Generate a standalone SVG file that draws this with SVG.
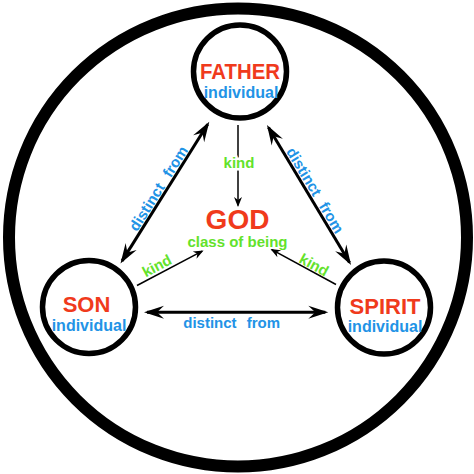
<svg xmlns="http://www.w3.org/2000/svg" width="474" height="474" viewBox="0 0 474 474">
<defs>
<style>
text{font-family:"Liberation Sans",Arial,sans-serif;font-weight:bold;text-anchor:middle}
.name{fill:#f03a1c;font-size:22px}
.ind{fill:#2293e6;font-size:16px}
.kind{fill:#63e22b;font-size:15px}
.dist{fill:#2293e6;font-size:15px;word-spacing:6px}
.halo{stroke:#fff;stroke-width:5px;paint-order:stroke;stroke-linejoin:round}
.node{fill:#fff;stroke:#000;stroke-width:5.5}
.thick{stroke:#000;stroke-width:3;fill:none;marker-start:url(#big);marker-end:url(#big)}
.thin{stroke:#000;stroke-width:1.5;fill:none;marker-end:url(#small)}
</style>
<marker id="big" markerUnits="userSpaceOnUse" orient="auto-start-reverse" viewBox="-22 -8 26 16" refX="-3" refY="0" markerWidth="26" markerHeight="16" overflow="visible">
<path d="M0,0 L-20,-6.5 L-13,0 L-20,6.5 Z" fill="#000"/>
</marker>
<marker id="small" markerUnits="userSpaceOnUse" orient="auto" viewBox="-12 -6 14 12" refX="-1.5" refY="0" markerWidth="14" markerHeight="12" overflow="visible">
<path d="M0,0 L-10,-4 L-7,0 L-10,4 Z" fill="#000"/>
</marker>
</defs>
<rect width="474" height="474" fill="#fff"/>
<circle id="outer" cx="238" cy="237.5" r="229" fill="none" stroke="#000" stroke-width="12"/>
<g id="connectors">
<line class="thin" x1="238" y1="125" x2="238" y2="205.5"/>
<line class="thin" x1="137" y1="285.5" x2="202.2" y2="251.2"/>
<line class="thin" x1="336" y1="284.5" x2="271.8" y2="249.7"/>
<line class="thick" x1="122.1" y1="260.9" x2="207.7" y2="124.3"/>
<line class="thick" x1="268.5" y1="127.6" x2="349.5" y2="262.4"/>
<line class="thick" x1="147" y1="312.3" x2="325.3" y2="312.3"/>
<text class="kind halo" x="239" y="168">kind</text>
<text class="kind" transform="translate(157,266) rotate(-27.8)" x="0" y="5">kind</text>
<text class="kind" transform="translate(314,265) rotate(28.5)" x="0" y="5">kind</text>
<text class="dist" transform="translate(158.6,188.6) rotate(-57.9)" x="0" y="5">distinct from</text>
<text class="dist" transform="translate(315,190.5) rotate(59)" x="0" y="5">distinct from</text>
<text class="dist" x="231.7" y="328">distinct from</text>
</g>
<g id="god">
<text x="237.5" y="229" style="fill:#f03a1c;font-size:28px">GOD</text>
<text class="kind" x="237.5" y="247">class of being</text>
</g>
<g id="father">
<circle class="node" cx="240" cy="71.5" r="46.5"/>
<text class="name" x="240" y="79" textLength="80" lengthAdjust="spacingAndGlyphs">FATHER</text>
<text class="ind" x="241" y="98">individual</text>
</g>
<g id="son">
<circle class="node" cx="89" cy="307" r="46.5"/>
<text class="name" x="86.5" y="312">SON</text>
<text class="ind" x="89" y="331">individual</text>
</g>
<g id="spirit">
<circle class="node" cx="384" cy="307.5" r="46.5"/>
<text class="name" x="385" y="314">SPIRIT</text>
<text class="ind" x="385" y="332">individual</text>
</g>
</svg>
